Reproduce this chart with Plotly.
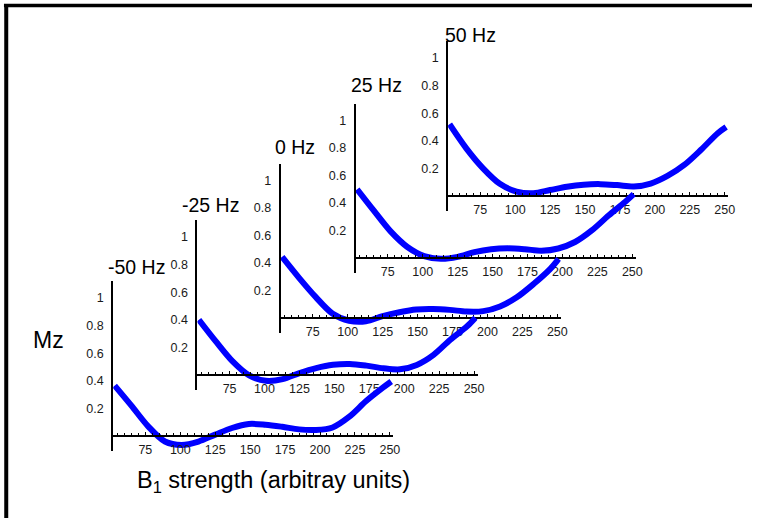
import plotly.graph_objects as go

# B1 sample positions shared by every offset curve
b1 = [53, 65, 77, 89, 101, 113, 125, 137, 149, 161, 173, 185, 197, 209, 221, 233, 245, 251]

# Longitudinal magnetisation Mz for each off-resonance frequency
mz_m50 = [0.365, 0.22, 0.07, -0.04, -0.065, -0.04, 0.01, 0.058, 0.087, 0.082, 0.067, 0.048, 0.044, 0.062, 0.14, 0.253, 0.35, 0.395]
mz_m25 = [0.40, 0.245, 0.10, -0.003, -0.042, -0.03, 0.014, 0.05, 0.074, 0.08, 0.068, 0.049, 0.041, 0.073, 0.146, 0.256, 0.353, 0.415]
mz_0 = [0.445, 0.295, 0.155, 0.035, -0.018, -0.022, 0.016, 0.044, 0.064, 0.067, 0.061, 0.049, 0.052, 0.086, 0.152, 0.248, 0.358, 0.43]
mz_25 = [0.50, 0.345, 0.195, 0.082, 0.016, -0.004, 0.01, 0.045, 0.066, 0.072, 0.066, 0.055, 0.071, 0.118, 0.202, 0.31, 0.41, 0.465]
mz_50 = [0.52, 0.345, 0.20, 0.088, 0.032, 0.02, 0.043, 0.067, 0.082, 0.086, 0.079, 0.069, 0.09, 0.145, 0.225, 0.335, 0.455, 0.50]

freq_labels = ["50 Hz", "25 Hz", "0 Hz", "-25 Hz", "-50 Hz"]
series = [mz_50, mz_25, mz_0, mz_m25, mz_m50]

y_ticks = [0.2, 0.4, 0.6, 0.8, 1]

# Figure geometry (pixels)
W, H = 759, 518
SX, SY = 1.41, 138.0          # px per B1 unit, px per Mz unit
X_RANGE = [52, 252.5]
Y_RANGE = [-0.11, 1.12]
# origin of each staggered panel: (x of the Mz axis, y of Mz = 0)
origins = [(452.3, 196), (359, 258.3), (283.3, 318.3), (199.3, 375), (114.3, 436)]
# title anchor (left x, centre y) for each panel
title_pos = [(447, 35), (352, 85), (276, 147), (182, 205), (107, 267)]

FONT = "Liberation Sans, Arial, sans-serif"
BLUE = "#0000ff"

fig = go.Figure()
layout = dict(
    width=W, height=H,
    margin=dict(l=0, r=0, t=0, b=0),
    paper_bgcolor="white",
    plot_bgcolor="rgba(0,0,0,0)",
    showlegend=False,
    font=dict(family=FONT, color="black"),
)

annotations = []
for i, (label, mz) in enumerate(zip(freq_labels, series)):
    k = "" if i == 0 else str(i + 1)
    ox, oy = origins[i]
    x_right = ox + (X_RANGE[1] - X_RANGE[0]) * SX
    y_top = oy - Y_RANGE[1] * SY
    y_bot = oy - Y_RANGE[0] * SY

    fig.add_trace(go.Scatter(
        x=b1, y=mz, mode="lines",
        line=dict(color=BLUE, width=6, shape="spline", smoothing=0.9),
        xaxis="x" + k, yaxis="y" + k, hoverinfo="skip",
    ))

    layout["xaxis" + k] = dict(
        domain=[ox / W, x_right / W], range=X_RANGE,
        anchor="free", position=1 - oy / H,
        showline=True, linecolor="black", linewidth=2,
        showgrid=False, zeroline=False,
        tickmode="linear", tick0=0, dtick=25,
        ticks="inside", ticklen=3, tickcolor="black", tickwidth=1,
        minor=dict(dtick=5, tick0=0, ticks="inside", ticklen=2,
                   tickcolor="black", tickwidth=1, showgrid=False),
        tickfont=dict(size=12.5, family=FONT, color="#1a1a1a"),
        ticklabelstandoff=2,
    )
    layout["yaxis" + k] = dict(
        domain=[1 - y_bot / H, 1 - y_top / H], range=Y_RANGE,
        anchor="x" + k,
        showline=True, linecolor="black", linewidth=2,
        showgrid=False, zeroline=False,
        tickmode="array", tickvals=y_ticks, ticks="",
        tickfont=dict(size=12.5, family=FONT, color="#1a1a1a"),
        ticklabelstandoff=5,
    )

    tx, ty = title_pos[i]
    annotations.append(dict(
        text=label, x=tx / W, y=1 - ty / H, xref="paper", yref="paper",
        xanchor="left", yanchor="middle", showarrow=False,
        font=dict(size=19.5, family=FONT, color="black"),
    ))

# axis titles
annotations.append(dict(
    text="Mz", x=31 / W, y=1 - 340 / H, xref="paper", yref="paper",
    xanchor="left", yanchor="middle", showarrow=False,
    font=dict(size=23, family=FONT, color="black"),
))
annotations.append(dict(
    text="B<sub>1</sub> strength (arbitray units)", x=136 / W, y=1 - 481 / H,
    xref="paper", yref="paper", xanchor="left", yanchor="middle", showarrow=False,
    font=dict(size=23.5, family=FONT, color="black"),
))

layout["annotations"] = annotations

# frame lines along the top and left edges
layout["shapes"] = [
    dict(type="line", xref="paper", yref="paper",
         x0=4 / W, x1=1, y0=1 - 5.6 / H, y1=1 - 5.6 / H,
         line=dict(color="black", width=3.5)),
    dict(type="line", xref="paper", yref="paper",
         x0=6.3 / W, x1=6.3 / W, y0=0, y1=1 - 4 / H,
         line=dict(color="black", width=4)),
]

fig.update_layout(**layout)
fig.write_html("out.html")
